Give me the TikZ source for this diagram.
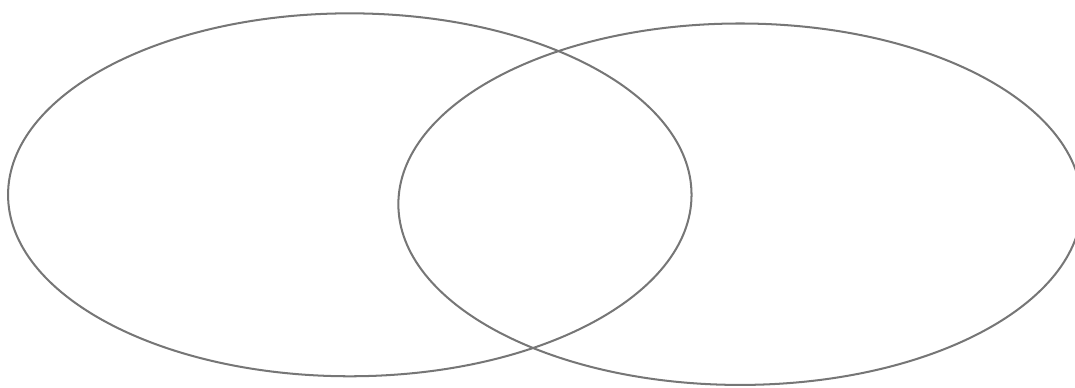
\documentclass[tikz,border=0pt]{standalone}
\usetikzlibrary{shapes.geometric}

\begin{document}
\begin{tikzpicture}[
  x=0.02cm, y=-0.02cm,
  set/.style={draw=rimgray, line width=1.15pt, ellipse, inner sep=0pt, minimum width=13.672cm}
]
\definecolor{rimgray}{RGB}{118,118,118}
\useasboundingbox (0,0) rectangle (1075,387);
\clip (0,0) rectangle (1075,387);

\node[set, minimum height=7.26cm] (left) at (349.8,194.8) {};
\node[set, minimum height=7.23cm] (right) at (740.1,204.2) {};

\end{tikzpicture}
\end{document}
